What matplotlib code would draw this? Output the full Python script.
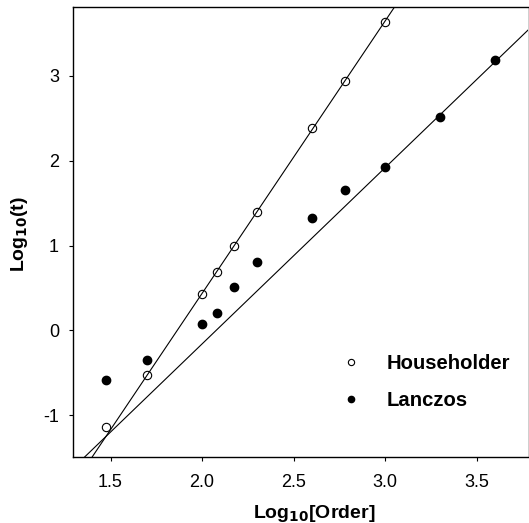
import numpy as np
import matplotlib
matplotlib.use("Agg")
import matplotlib.pyplot as plt

plt.rcParams['font.family'] = ['Liberation Sans', 'DejaVu Sans']

# Data (log10 of matrix order vs log10 of time)
house_x = [1.477, 1.699, 2.000, 2.079, 2.176, 2.301, 2.602, 2.778, 3.000]
house_y = [-1.14, -0.53, 0.435, 0.687, 1.00, 1.40, 2.39, 2.94, 3.63]
lanc_x = [1.477, 1.699, 2.000, 2.079, 2.176, 2.301, 2.602, 2.778, 3.000, 3.301, 3.602]
lanc_y = [-0.58, -0.345, 0.08, 0.21, 0.51, 0.81, 1.33, 1.65, 1.93, 2.52, 3.18]

xticks = [1.5, 2.0, 2.5, 3.0, 3.5]
yticks = [-1, 0, 1, 2, 3]

fig = plt.figure(figsize=(5.29, 5.23), dpi=100)
ax = fig.add_axes([73/529, 1 - 457/523, (528 - 73)/529, (457 - 7)/523])

xlim = (1.295, 3.78)
ylim = (-1.49, 3.81)

# regression lines (fit to the larger orders)
hx = np.array(house_x); hy = np.array(house_y)
ph = np.polyfit(hx[1:], hy[1:], 1)
lx = np.array(lanc_x); ly = np.array(lanc_y)
pl = np.polyfit(lx[-3:], ly[-3:], 1)
xx = np.linspace(xlim[0] - 0.1, xlim[1] + 0.1, 200)
ax.plot(xx, np.polyval(ph, xx), color='black', lw=0.8, zorder=2)
ax.plot(xx, np.polyval(pl, xx), color='black', lw=0.8, zorder=2)

ax.plot(house_x, house_y, 'o', mfc='none', mec='black', mew=0.8, ms=6,
        ls='none', label='Householder', zorder=3)
ax.plot(lanc_x, lanc_y, 'o', mfc='black', mec='black', ms=6,
        ls='none', label='Lanczos', zorder=3)

ax.set_xlim(*xlim)
ax.set_ylim(*ylim)
ax.set_xticks(xticks)
ax.set_xticklabels([f"{t:.1f}" for t in xticks])
ax.set_yticks(yticks)
ax.set_yticklabels([str(t) for t in yticks])
ax.tick_params(direction='out', length=3, width=0.8, labelsize=13)
ax.tick_params(axis='x', pad=9)
ax.tick_params(axis='y', pad=7)

for s in ['left', 'bottom', 'top']:
    ax.spines[s].set_linewidth(1.0)
ax.spines['right'].set_linewidth(0.5)
ax.spines['right'].set_color('#bbbbbb')

ax.set_xlabel(r'Log$_{\mathbf{10}}$[Order]', fontsize=14, fontweight='bold')
ax.set_ylabel(r'Log$_{\mathbf{10}}$(t)', fontsize=14, fontweight='bold')
ax.xaxis.set_label_coords((314 - 73)/455, -(503 - 457)/450)
ax.yaxis.set_label_coords(-(73 - 30)/455, (457 - 234)/450)

leg = ax.legend(loc='center left', bbox_to_anchor=((323 - 73)/455, (457 - 382)/450),
                frameon=False, prop={'weight': 'bold', 'size': 14.6},
                markerscale=0.75, handlelength=1.0, handletextpad=1.25,
                labelspacing=0.85)

fig.savefig('out.png', dpi=100)
